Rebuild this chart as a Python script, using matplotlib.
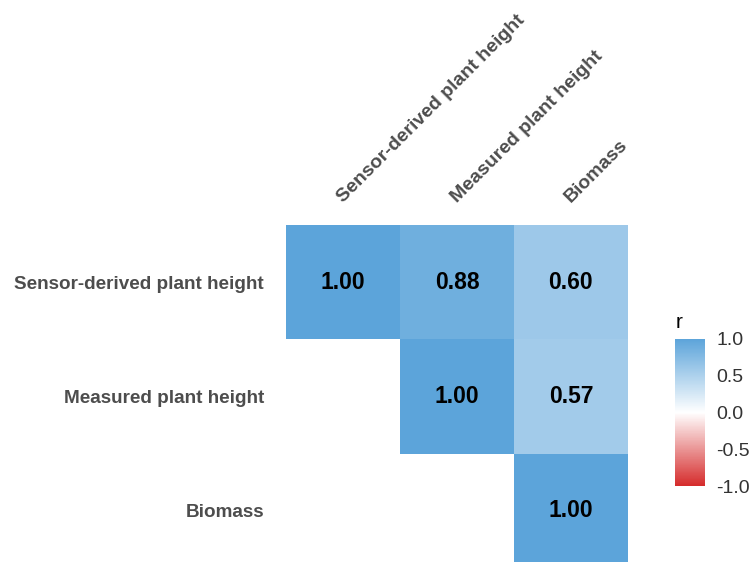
import matplotlib.pyplot as plt
import numpy as np
from matplotlib.colors import LinearSegmentedColormap

plt.rcParams["font.family"] = ["Liberation Sans", "DejaVu Sans"]

labels = ["Sensor-derived plant height", "Measured plant height", "Biomass"]
corr = np.array([
    [1.00, 0.88, 0.60],
    [np.nan, 1.00, 0.57],
    [np.nan, np.nan, 1.00],
])
cbar_ticks = [-1.0, -0.5, 0.0, 0.5, 1.0]

cmap = LinearSegmentedColormap.from_list("rb", ["#D52B2B", "#FFFFFF", "#5CA4DA"])

fig = plt.figure(figsize=(7.51, 5.62), dpi=100)
ax = fig.add_axes([0.381, -0.011, 0.455, 0.611])

data = np.ma.masked_invalid(corr)
mesh = ax.pcolormesh(data, cmap=cmap, vmin=-1, vmax=1)
ax.set_xlim(0, 3)
ax.set_ylim(3, 0)

for i in range(3):
    for j in range(3):
        if not np.isnan(corr[i, j]):
            ax.text(j + 0.5, i + 0.5, f"{corr[i, j]:.2f}", ha="center", va="center",
                    fontsize=16.5, fontweight="bold", color="black")

ax.set_yticks(np.arange(3) + 0.5)
ax.set_yticklabels(labels, fontsize=13.6, fontweight="bold", color="#4D4D4D")
ax.set_xticks([])
for j, lab in enumerate(labels):
    ax.text(j + 0.47, -0.22, lab, rotation=45, rotation_mode="anchor", ha="left", va="center",
            fontsize=14, fontweight="bold", color="#4D4D4D")
ax.tick_params(axis="y", length=0, pad=16)
for s in ax.spines.values():
    s.set_visible(False)

cax = fig.add_axes([0.899, 0.135, 0.040, 0.262])
cb = fig.colorbar(mesh, cax=cax, ticks=cbar_ticks)
cb.outline.set_visible(False)
cb.ax.tick_params(length=0, labelsize=14, colors="#333333", pad=8)
cb.ax.set_yticklabels([f"{t:.1f}" for t in cbar_ticks])
cb.ax.set_title("r", fontsize=15, loc="left", pad=8)

fig.savefig("out.png", dpi=100)
